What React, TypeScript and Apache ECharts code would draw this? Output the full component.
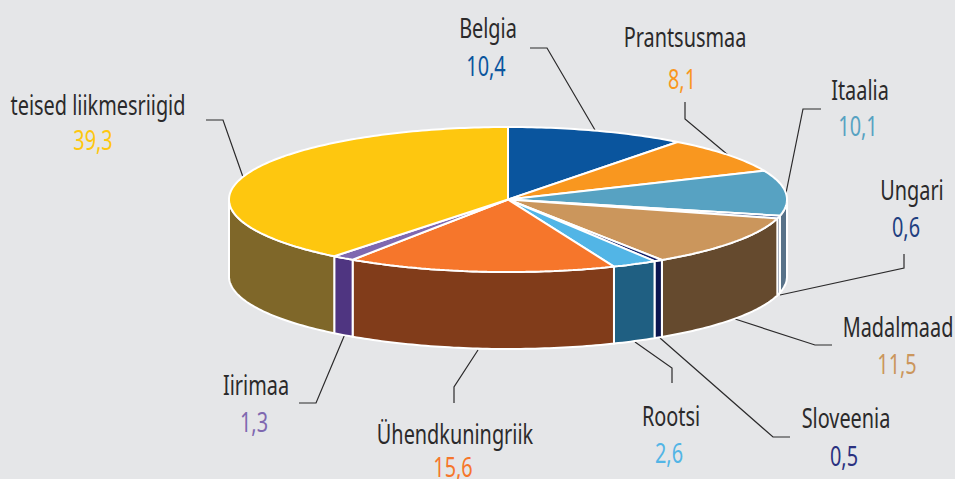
import React, { useEffect, useRef } from "react";
import * as echarts from "echarts";

const countries = ["Belgia", "Prantsusmaa", "Itaalia", "Ungari", "Madalmaad", "Sloveenia", "Rootsi", "Ühendkuningriik", "Iirimaa", "teised liikmesriigid"];
const shares = [10.4, 8.1, 10.1, 0.6, 11.5, 0.5, 2.6, 15.6, 1.3, 39.3];
const shareLabels = ["10,4", "8,1", "10,1", "0,6", "11,5", "0,5", "2,6", "15,6", "1,3", "39,3"];
const topColors = ["#0a559e", "#f9971f", "#57a2c2", "#1f3f80", "#cb965c", "#14206a", "#52b5e6", "#f6762b", "#7f68b0", "#fec70f"];
const sideColors = ["#063a6c", "#a96714", "#587289", "#14294f", "#654a2e", "#0c1650", "#1f5f82", "#813c1a", "#4f3581", "#7f6729"];
const valueColors = ["#0a559e", "#f9971f", "#57a2c2", "#1f3f80", "#cb965c", "#2a3180", "#52b5e6", "#f6762b", "#7f68b0", "#fec70f"];

// Layout of the texts: [name centre x, name y, value centre x, value y]
const labelPos = [
  [488, 27, 486, 65],
  [685, 36, 682, 78],
  [860, 89, 858, 125],
  [912, 189, 906, 226],
  [898, 326, 897, 363],
  [846, 417, 844, 455],
  [671, 415, 669, 452],
  [455, 433, 453, 466],
  [256, 384, 254, 421],
  [98, 104, 93, 139],
];
const leaders = [
  [[530, 48], [547, 48], [595, 130]],
  [[685, 102], [685, 119], [728, 155]],
  [[821, 109], [803, 109], [786, 193]],
  [[904, 254], [904, 268], [780, 295]],
  [[832, 345], [815, 345], [735, 319]],
  [[790, 437], [773, 437], [660, 338]],
  [[672, 383], [672, 368], [635, 342]],
  [[454, 403], [454, 387], [478, 350]],
  [[299, 403], [316, 403], [345, 334]],
  [[206, 120], [223, 120], [243, 177]],
];

const CX = 508, CY = 199.5, RX = 279, RY = 72.5, DEPTH = 77;
const FONT = '"Noto Sans", "Open Sans", sans-serif';
const NARROW = 0.71;

const starts: number[] = [];
shares.reduce((acc, v, i) => { starts[i] = acc; return acc + v; }, 0);
const seriesData = shares.map((v, i) => [starts[i], v]);

const toDeg = (pct: number) => echarts.number.linearMap(pct, [0, 100], [0, 360]);
const rim = (deg: number, dy = 0) => {
  const t = (deg * Math.PI) / 180;
  return [CX + RX * Math.sin(t), CY - RY * Math.cos(t) + dy];
};
const arc = (a: number, b: number, dy = 0) => {
  const pts: number[][] = [];
  const n = Math.max(1, Math.ceil(Math.abs(b - a)));
  for (let i = 0; i <= n; i++) pts.push(rim(a + ((b - a) * i) / n, dy));
  return pts;
};

const renderSide = (params: any, api: any) => {
  const a = Math.max(toDeg(api.value(0)), 90);
  const b = Math.min(toDeg(api.value(0) + api.value(1)), 270);
  if (b <= a) return { type: "group", children: [] };
  return {
    type: "polygon",
    shape: { points: [...arc(a, b), ...arc(b, a, DEPTH)] },
    style: { fill: sideColors[params.dataIndex], stroke: "#ffffff", lineWidth: 2 },
  };
};
const renderTop = (params: any, api: any) => {
  const a = toDeg(api.value(0));
  const b = toDeg(api.value(0) + api.value(1));
  return {
    type: "polygon",
    shape: { points: [[CX, CY], ...arc(a, b)] },
    style: { fill: topColors[params.dataIndex], stroke: "#ffffff", lineWidth: 2, lineJoin: "bevel" },
  };
};

export default function App() {
  const ref = useRef<HTMLDivElement>(null);
  useEffect(() => {
    const chart = echarts.init(ref.current!, null, { renderer: "svg" });
    const texts: any[] = [];
    countries.forEach((name, i) => {
      const p = labelPos[i];
      texts.push({
        type: "text", x: p[0], y: p[1], scaleX: NARROW,
        style: { text: name, fill: "#2b2a2b", font: `28px ${FONT}`, textAlign: "center", textVerticalAlign: "middle" },
      });
      texts.push({
        type: "text", x: p[2], y: p[3], scaleX: NARROW,
        style: { text: shareLabels[i], fill: valueColors[i], font: `28px ${FONT}`, textAlign: "center", textVerticalAlign: "middle" },
      });
      texts.push({
        type: "polyline", shape: { points: leaders[i] },
        style: { fill: "none", stroke: "#2b2a2b", lineWidth: 1.2 },
      });
    });
    chart.setOption({
      animation: false,
      backgroundColor: "#e5e6e8",
      series: [
        { type: "custom", coordinateSystem: "none", silent: true, data: seriesData, renderItem: renderSide, z: 2 },
        { type: "custom", coordinateSystem: "none", silent: true, data: seriesData, renderItem: renderTop, z: 3 },
      ],
      graphic: { elements: texts },
    });
    return () => chart.dispose();
  }, []);
  return <div ref={ref} style={{ position: "fixed", left: 0, top: 0, width: 955, height: 479 }} />;
}
